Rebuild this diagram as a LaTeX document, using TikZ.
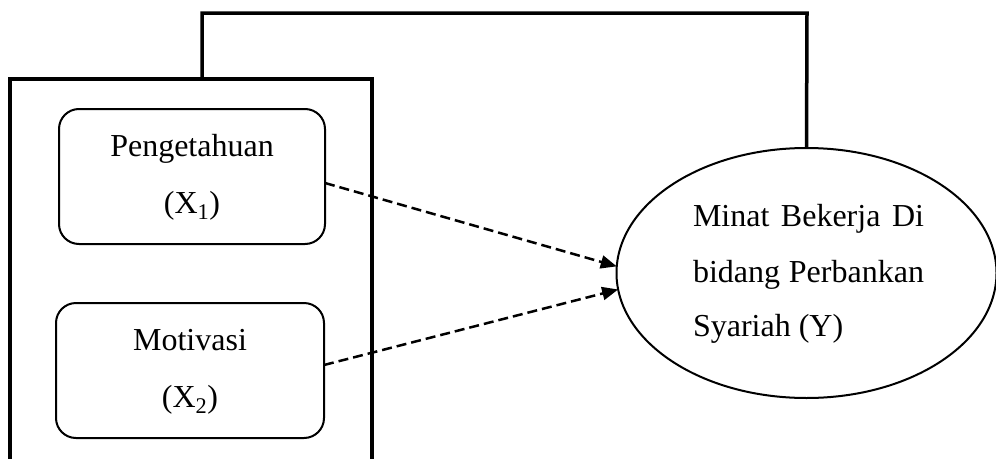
\documentclass[tikz,border=0pt]{standalone}
\usepackage{fontspec}
\setmainfont{Liberation Serif}
\usetikzlibrary{shapes.geometric,arrows.meta}
\begin{document}
\begin{tikzpicture}[x=1pt,y=-1pt,
  thickline/.style={line width=3.5pt},
  varbox/.style={draw,line width=2pt,rounded corners=20pt,minimum height=135pt,inner sep=0pt,outer sep=0pt},
  lbl/.style={inner sep=0pt,outer sep=0pt,font=\fontsize{32}{38}\selectfont},
  dasharrow/.style={line width=2.5pt,dash pattern=on 10pt off 5pt,-{Triangle[length=16pt,width=13pt]}},
  target/.style={draw,ellipse,line width=2pt,minimum width=380pt,minimum height=250pt,inner sep=0pt,outer sep=0pt}]
\useasboundingbox (0,0) rectangle (996,458);
\clip (0,0) rectangle (996,458);
% outer frame (open at the bottom)
\coordinate (fbl) at (10,470);
\coordinate (ftl) at (10,79);
\coordinate (ftr) at (372,79);
\coordinate (fbr) at (372,470);
\draw[thickline] (fbl) -- (ftl) -- (ftr) -- (fbr);
% variable boxes
\node[varbox,minimum width=266pt] (b1) at (192,176.5) {};
\node[varbox,minimum width=268pt] (b2) at (190,370.5) {};
\node[lbl,anchor=base] (t1a) at (192,156) {Pengetahuan};
\node[lbl,anchor=base] (t1b) at (192,213) {(X\textsubscript{1})};
\node[lbl,anchor=base] (t2a) at (190,350) {Motivasi};
\node[lbl,anchor=base] (t2b) at (190,407) {(X\textsubscript{2})};
% dependent variable
\node[target] (y) at (806.5,273) {};
\node[lbl,anchor=base west] (ya) at (693,226) {\makebox[231pt][s]{Minat Bekerja Di}};
\node[lbl,anchor=base west] (yb) at (693,282) {\makebox[231pt][s]{bidang Perbankan}};
\node[lbl,anchor=base west] (yc) at (693,336) {Syariah (Y)};
% top connector
\coordinate (c1) at (202,79);
\coordinate (c2) at (202,13);
\coordinate (c3) at (807,13);
\draw[thickline] (c1) -- (c2) -- (c3) -- (y.north);
% dashed arrows
\draw[dasharrow] ([yshift=-6.5pt]b1.east) -- (y.178.5);
\draw[dasharrow] ([yshift=5.5pt]b2.east) -- (y.185.7);
\end{tikzpicture}
\end{document}
